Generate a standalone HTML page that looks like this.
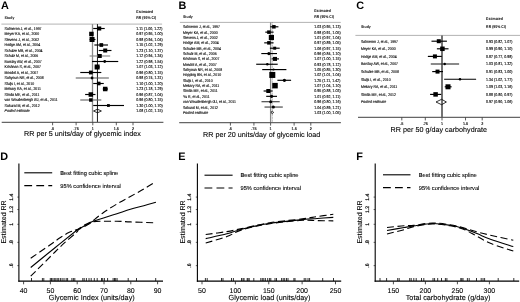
<!DOCTYPE html>
<html><head><meta charset="utf-8"><style>
html,body{margin:0;padding:0;background:#fff;}
svg{display:block;will-change:transform;}
text{font-family:"Liberation Sans", sans-serif;text-rendering:geometricPrecision;}
</style></head><body>
<svg width="520" height="302" viewBox="0 0 520 302">
<rect width="520" height="302" fill="#fff"/>
<text transform="translate(1.00,8.90) scale(0.1,0.1)" font-size="109.00" font-weight="bold" font-style="normal" text-anchor="start" fill="#000" >A</text>
<text transform="translate(4.60,19.35) scale(0.1,0.11499999999999999)" font-size="35.00" font-weight="bold" font-style="normal" text-anchor="start" fill="#000" >Study</text>
<text transform="translate(136.30,13.15) scale(0.1,0.11499999999999999)" font-size="35.00" font-weight="bold" font-style="normal" text-anchor="start" fill="#000" >Estimated</text>
<text transform="translate(136.30,18.95) scale(0.1,0.11499999999999999)" font-size="35.00" font-weight="bold" font-style="normal" text-anchor="start" fill="#000" >RR (95% CI)</text>
<line x1="1.40" y1="24.10" x2="162.10" y2="24.10" stroke="#aaa" stroke-width="0.9" />
<line x1="92.50" y1="24.10" x2="92.50" y2="122.30" stroke="#8a8a8a" stroke-width="1.3" />
<line x1="97.45" y1="24.10" x2="97.45" y2="122.30" stroke="#000" stroke-width="0.9" />
<text transform="translate(4.60,29.95) scale(0.1,0.11499999999999999)" font-size="35.00" font-weight="normal" font-style="normal" text-anchor="start" fill="#000" stroke="#000" stroke-width="1.00" >Salmeron J, et al., 1997</text>
<text transform="translate(136.30,29.95) scale(0.1,0.11499999999999999)" font-size="36.00" font-weight="normal" font-style="normal" text-anchor="start" fill="#000" stroke="#000" stroke-width="1.00" >1.11 (1.00, 1.22)</text>
<line x1="93.20" y1="28.50" x2="104.73" y2="28.50" stroke="#000" stroke-width="1.15" />
<rect x="97.25" y="26.50" width="4.00" height="4.00" fill="#000"/>
<text transform="translate(4.60,35.45) scale(0.1,0.11499999999999999)" font-size="35.00" font-weight="normal" font-style="normal" text-anchor="start" fill="#000" stroke="#000" stroke-width="1.00" >Meyer KA, et al., 2000</text>
<text transform="translate(136.30,35.45) scale(0.1,0.11499999999999999)" font-size="36.00" font-weight="normal" font-style="normal" text-anchor="start" fill="#000" stroke="#000" stroke-width="1.00" >0.97 (0.95, 1.00)</text>
<line x1="90.22" y1="34.00" x2="93.20" y2="34.00" stroke="#000" stroke-width="1.15" />
<rect x="89.18" y="31.75" width="4.50" height="4.50" fill="#000"/>
<text transform="translate(4.60,40.95) scale(0.1,0.11499999999999999)" font-size="35.00" font-weight="normal" font-style="normal" text-anchor="start" fill="#000" stroke="#000" stroke-width="1.00" >Stevens J, et al., 2002</text>
<text transform="translate(136.30,40.95) scale(0.1,0.11499999999999999)" font-size="36.00" font-weight="normal" font-style="normal" text-anchor="start" fill="#000" stroke="#000" stroke-width="1.00" >0.98 (0.94, 1.04)</text>
<line x1="89.61" y1="39.50" x2="95.47" y2="39.50" stroke="#000" stroke-width="1.15" />
<rect x="89.53" y="37.00" width="5.00" height="5.00" fill="#000"/>
<text transform="translate(4.60,46.45) scale(0.1,0.11499999999999999)" font-size="35.00" font-weight="normal" font-style="normal" text-anchor="start" fill="#000" stroke="#000" stroke-width="1.00" >Hodge AM, et al., 2004</text>
<text transform="translate(136.30,46.45) scale(0.1,0.11499999999999999)" font-size="36.00" font-weight="normal" font-style="normal" text-anchor="start" fill="#000" stroke="#000" stroke-width="1.00" >1.15 (1.02, 1.29)</text>
<line x1="94.35" y1="45.00" x2="107.97" y2="45.00" stroke="#000" stroke-width="1.15" />
<rect x="99.46" y="43.15" width="3.70" height="3.70" fill="#000"/>
<text transform="translate(4.60,51.95) scale(0.1,0.11499999999999999)" font-size="35.00" font-weight="normal" font-style="normal" text-anchor="start" fill="#000" stroke="#000" stroke-width="1.00" >Schulze MB, et al., 2004</text>
<text transform="translate(136.30,51.95) scale(0.1,0.11499999999999999)" font-size="36.00" font-weight="normal" font-style="normal" text-anchor="start" fill="#000" stroke="#000" stroke-width="1.00" >1.23 (1.10, 1.37)</text>
<line x1="98.73" y1="50.50" x2="111.46" y2="50.50" stroke="#000" stroke-width="1.15" />
<rect x="103.21" y="48.50" width="4.00" height="4.00" fill="#000"/>
<text transform="translate(4.60,57.45) scale(0.1,0.11499999999999999)" font-size="35.00" font-weight="normal" font-style="normal" text-anchor="start" fill="#000" stroke="#000" stroke-width="1.00" >Schulz M, et al., 2006</text>
<text transform="translate(136.30,57.45) scale(0.1,0.11499999999999999)" font-size="36.00" font-weight="normal" font-style="normal" text-anchor="start" fill="#000" stroke="#000" stroke-width="1.00" >1.12 (0.94, 1.34)</text>
<line x1="89.61" y1="56.00" x2="110.17" y2="56.00" stroke="#888" stroke-width="1.15" />
<rect x="97.77" y="54.00" width="4.00" height="4.00" fill="#000"/>
<text transform="translate(4.60,62.95) scale(0.1,0.11499999999999999)" font-size="35.00" font-weight="normal" font-style="normal" text-anchor="start" fill="#000" stroke="#000" stroke-width="1.00" >Barclay AW, et al., 2007</text>
<text transform="translate(136.30,62.95) scale(0.1,0.11499999999999999)" font-size="36.00" font-weight="normal" font-style="normal" text-anchor="start" fill="#000" stroke="#000" stroke-width="1.00" >1.22 (0.98, 1.54)</text>
<line x1="92.03" y1="61.50" x2="118.24" y2="61.50" stroke="#000" stroke-width="1.15" />
<circle cx="104.73" cy="61.50" r="1.40" fill="#000"/>
<text transform="translate(4.60,68.45) scale(0.1,0.11499999999999999)" font-size="35.00" font-weight="normal" font-style="normal" text-anchor="start" fill="#000" stroke="#000" stroke-width="1.00" >Krishnan S, et al., 2007</text>
<text transform="translate(136.30,68.45) scale(0.1,0.11499999999999999)" font-size="36.00" font-weight="normal" font-style="normal" text-anchor="start" fill="#000" stroke="#000" stroke-width="1.00" >1.07 (1.03, 1.12)</text>
<line x1="94.91" y1="67.00" x2="99.77" y2="67.00" stroke="#000" stroke-width="1.15" />
<rect x="94.62" y="64.50" width="5.00" height="5.00" fill="#000"/>
<text transform="translate(4.60,73.95) scale(0.1,0.11499999999999999)" font-size="35.00" font-weight="normal" font-style="normal" text-anchor="start" fill="#000" stroke="#000" stroke-width="1.00" >Mosdol A, et al., 2007</text>
<text transform="translate(136.30,73.95) scale(0.1,0.11499999999999999)" font-size="36.00" font-weight="normal" font-style="normal" text-anchor="start" fill="#000" stroke="#000" stroke-width="1.00" >0.96 (0.80, 1.15)</text>
<line x1="80.26" y1="72.50" x2="101.31" y2="72.50" stroke="#000" stroke-width="1.15" />
<rect x="88.93" y="70.60" width="3.80" height="3.80" fill="#000"/>
<text transform="translate(4.60,79.45) scale(0.1,0.11499999999999999)" font-size="35.00" font-weight="normal" font-style="normal" text-anchor="start" fill="#000" stroke="#000" stroke-width="1.00" >Sahyoun NR, et al., 2008</text>
<text transform="translate(136.30,79.45) scale(0.1,0.11499999999999999)" font-size="36.00" font-weight="normal" font-style="normal" text-anchor="start" fill="#000" stroke="#000" stroke-width="1.00" >0.98 (0.74, 1.31)</text>
<line x1="75.74" y1="78.00" x2="108.86" y2="78.00" stroke="#555" stroke-width="1.15" />
<circle cx="92.03" cy="78.00" r="1.40" fill="#000"/>
<text transform="translate(4.60,84.95) scale(0.1,0.11499999999999999)" font-size="35.00" font-weight="normal" font-style="normal" text-anchor="start" fill="#000" stroke="#000" stroke-width="1.00" >Sluijs I, et al., 2010</text>
<text transform="translate(136.30,84.95) scale(0.1,0.11499999999999999)" font-size="36.00" font-weight="normal" font-style="normal" text-anchor="start" fill="#000" stroke="#000" stroke-width="1.00" >1.10 (1.00, 1.20)</text>
<line x1="93.20" y1="83.50" x2="103.77" y2="83.50" stroke="#000" stroke-width="1.15" />
<rect x="96.93" y="81.70" width="3.60" height="3.60" fill="#000"/>
<text transform="translate(4.60,90.45) scale(0.1,0.11499999999999999)" font-size="35.00" font-weight="normal" font-style="normal" text-anchor="start" fill="#000" stroke="#000" stroke-width="1.00" >Mekary RA, et al., 2011</text>
<text transform="translate(136.30,90.45) scale(0.1,0.11499999999999999)" font-size="36.00" font-weight="normal" font-style="normal" text-anchor="start" fill="#000" stroke="#000" stroke-width="1.00" >1.23 (1.18, 1.29)</text>
<line x1="102.80" y1="89.00" x2="107.97" y2="89.00" stroke="#000" stroke-width="1.15" />
<rect x="102.96" y="86.75" width="4.50" height="4.50" fill="#000"/>
<text transform="translate(4.60,95.95) scale(0.1,0.11499999999999999)" font-size="35.00" font-weight="normal" font-style="normal" text-anchor="start" fill="#000" stroke="#000" stroke-width="1.00" >Simila ME, et al., 2011</text>
<text transform="translate(136.30,95.95) scale(0.1,0.11499999999999999)" font-size="36.00" font-weight="normal" font-style="normal" text-anchor="start" fill="#000" stroke="#000" stroke-width="1.00" >0.96 (0.87, 1.04)</text>
<line x1="85.12" y1="94.50" x2="95.47" y2="94.50" stroke="#000" stroke-width="1.15" />
<rect x="88.58" y="92.25" width="4.50" height="4.50" fill="#000"/>
<text transform="translate(4.60,101.45) scale(0.1,0.11499999999999999)" font-size="35.00" font-weight="normal" font-style="normal" text-anchor="start" fill="#000" stroke="#000" stroke-width="1.00" >van Woudenbergh GJ, et al., 2011</text>
<text transform="translate(136.30,101.45) scale(0.1,0.11499999999999999)" font-size="36.00" font-weight="normal" font-style="normal" text-anchor="start" fill="#000" stroke="#000" stroke-width="1.00" >0.96 (0.80, 1.15)</text>
<line x1="80.26" y1="100.00" x2="101.31" y2="100.00" stroke="#666" stroke-width="1.15" />
<rect x="89.08" y="98.25" width="3.50" height="3.50" fill="#000"/>
<text transform="translate(4.60,106.95) scale(0.1,0.11499999999999999)" font-size="35.00" font-weight="normal" font-style="normal" text-anchor="start" fill="#000" stroke="#000" stroke-width="1.00" >Sakurai M, et al., 2012</text>
<text transform="translate(136.30,106.95) scale(0.1,0.11499999999999999)" font-size="36.00" font-weight="normal" font-style="normal" text-anchor="start" fill="#000" stroke="#000" stroke-width="1.00" >1.30 (1.00, 1.70)</text>
<line x1="93.20" y1="105.50" x2="123.98" y2="105.50" stroke="#000" stroke-width="1.15" />
<rect x="107.02" y="104.10" width="2.80" height="2.80" fill="#000"/>
<text transform="translate(4.60,112.45) scale(0.1,0.11499999999999999)" font-size="35.00" font-weight="normal" font-style="italic" text-anchor="start" fill="#000" stroke="#000" stroke-width="1.00" >Pooled estimate</text>
<text transform="translate(136.30,112.45) scale(0.1,0.11499999999999999)" font-size="36.00" font-weight="normal" font-style="normal" text-anchor="start" fill="#000" stroke="#000" stroke-width="1.00" >1.08 (1.02, 1.15)</text>
<polygon points="93.50,111.00 97.45,109.20 101.40,111.00 97.45,112.80" fill="none" stroke="#000" stroke-width="0.8" stroke-linejoin="miter"/>
<line x1="1.70" y1="122.30" x2="163.40" y2="122.30" stroke="#666" stroke-width="1.3" />
<line x1="52.60" y1="122.30" x2="52.60" y2="125.30" stroke="#333" stroke-width="0.8" />
<text transform="translate(52.60,129.90) scale(0.1,0.1)" font-size="38.00" font-weight="normal" font-style="normal" text-anchor="middle" fill="#000" stroke="#000" stroke-width="1.20" >.5</text>
<line x1="76.11" y1="122.30" x2="76.11" y2="125.30" stroke="#333" stroke-width="0.8" />
<text transform="translate(76.11,129.90) scale(0.1,0.1)" font-size="38.00" font-weight="normal" font-style="normal" text-anchor="middle" fill="#000" stroke="#000" stroke-width="1.20" >.75</text>
<line x1="92.80" y1="122.30" x2="92.80" y2="125.30" stroke="#333" stroke-width="0.8" />
<text transform="translate(92.80,129.90) scale(0.1,0.1)" font-size="38.00" font-weight="normal" font-style="normal" text-anchor="middle" fill="#000" stroke="#000" stroke-width="1.20" >1</text>
<line x1="116.32" y1="122.30" x2="116.32" y2="125.30" stroke="#333" stroke-width="0.8" />
<text transform="translate(116.32,129.90) scale(0.1,0.1)" font-size="38.00" font-weight="normal" font-style="normal" text-anchor="middle" fill="#000" stroke="#000" stroke-width="1.20" >1.5</text>
<line x1="133.00" y1="122.30" x2="133.00" y2="125.30" stroke="#333" stroke-width="0.8" />
<text transform="translate(133.00,129.90) scale(0.1,0.1)" font-size="38.00" font-weight="normal" font-style="normal" text-anchor="middle" fill="#000" stroke="#000" stroke-width="1.20" >2</text>
<text transform="translate(24.00,136.30) scale(0.1,0.1)" font-size="72.00" font-weight="normal" font-style="normal" text-anchor="start" fill="#000" stroke="#000" stroke-width="1.00" >RR per 5 units/day of glycemic index</text>
<text transform="translate(178.40,8.90) scale(0.1,0.1)" font-size="109.00" font-weight="bold" font-style="normal" text-anchor="start" fill="#000" >B</text>
<text transform="translate(183.00,17.65) scale(0.1,0.11499999999999999)" font-size="35.00" font-weight="bold" font-style="normal" text-anchor="start" fill="#000" >Study</text>
<text transform="translate(314.20,12.25) scale(0.1,0.11499999999999999)" font-size="35.00" font-weight="bold" font-style="normal" text-anchor="start" fill="#000" >Estimated</text>
<text transform="translate(314.20,17.55) scale(0.1,0.11499999999999999)" font-size="35.00" font-weight="bold" font-style="normal" text-anchor="start" fill="#000" >RR (95% CI)</text>
<line x1="179.90" y1="22.40" x2="340.80" y2="22.40" stroke="#aaa" stroke-width="0.9" />
<line x1="270.60" y1="22.40" x2="270.60" y2="122.60" stroke="#888" stroke-width="1.3" />
<line x1="272.40" y1="22.40" x2="272.40" y2="122.60" stroke="#666" stroke-width="0.6" stroke-dasharray="0.8,0.7"/>
<text transform="translate(183.00,28.25) scale(0.1,0.11499999999999999)" font-size="35.00" font-weight="normal" font-style="normal" text-anchor="start" fill="#000" stroke="#000" stroke-width="1.00" >Salmeron J, et al., 1997</text>
<text transform="translate(314.20,28.25) scale(0.1,0.11499999999999999)" font-size="36.00" font-weight="normal" font-style="normal" text-anchor="start" fill="#000" stroke="#000" stroke-width="1.00" >1.03 (0.95, 1.13)</text>
<line x1="270.30" y1="26.80" x2="278.40" y2="26.80" stroke="#000" stroke-width="1.15" />
<rect x="272.15" y="25.05" width="3.50" height="3.50" fill="#000"/>
<text transform="translate(183.00,33.60) scale(0.1,0.11499999999999999)" font-size="35.00" font-weight="normal" font-style="normal" text-anchor="start" fill="#000" stroke="#000" stroke-width="1.00" >Meyer KA, et al., 2000</text>
<text transform="translate(314.20,33.60) scale(0.1,0.11499999999999999)" font-size="36.00" font-weight="normal" font-style="normal" text-anchor="start" fill="#000" stroke="#000" stroke-width="1.00" >0.98 (0.91, 1.05)</text>
<line x1="265.30" y1="32.15" x2="273.60" y2="32.15" stroke="#000" stroke-width="1.15" />
<rect x="267.15" y="30.40" width="3.50" height="3.50" fill="#000"/>
<text transform="translate(183.00,38.95) scale(0.1,0.11499999999999999)" font-size="35.00" font-weight="normal" font-style="normal" text-anchor="start" fill="#000" stroke="#000" stroke-width="1.00" >Stevens J, et al., 2002</text>
<text transform="translate(314.20,38.95) scale(0.1,0.11499999999999999)" font-size="36.00" font-weight="normal" font-style="normal" text-anchor="start" fill="#000" stroke="#000" stroke-width="1.00" >1.01 (0.97, 1.04)</text>
<line x1="269.50" y1="37.50" x2="273.50" y2="37.50" stroke="#000" stroke-width="1.15" />
<rect x="268.80" y="34.90" width="5.20" height="5.20" fill="#000"/>
<text transform="translate(183.00,44.30) scale(0.1,0.11499999999999999)" font-size="35.00" font-weight="normal" font-style="normal" text-anchor="start" fill="#000" stroke="#000" stroke-width="1.00" >Hodge AM, et al., 2004</text>
<text transform="translate(314.20,44.30) scale(0.1,0.11499999999999999)" font-size="36.00" font-weight="normal" font-style="normal" text-anchor="start" fill="#000" stroke="#000" stroke-width="1.00" >0.97 (0.89, 1.05)</text>
<line x1="264.20" y1="42.85" x2="273.60" y2="42.85" stroke="#000" stroke-width="1.15" />
<rect x="267.15" y="41.10" width="3.50" height="3.50" fill="#000"/>
<text transform="translate(183.00,49.65) scale(0.1,0.11499999999999999)" font-size="35.00" font-weight="normal" font-style="normal" text-anchor="start" fill="#000" stroke="#000" stroke-width="1.00" >Schulze MB, et al., 2004</text>
<text transform="translate(314.20,49.65) scale(0.1,0.11499999999999999)" font-size="36.00" font-weight="normal" font-style="normal" text-anchor="start" fill="#000" stroke="#000" stroke-width="1.00" >1.06 (0.97, 1.15)</text>
<line x1="269.90" y1="48.20" x2="279.70" y2="48.20" stroke="#000" stroke-width="1.15" />
<rect x="273.20" y="46.70" width="3.00" height="3.00" fill="#000"/>
<text transform="translate(183.00,55.00) scale(0.1,0.11499999999999999)" font-size="35.00" font-weight="normal" font-style="normal" text-anchor="start" fill="#000" stroke="#000" stroke-width="1.00" >Schulz M, et al., 2006</text>
<text transform="translate(314.20,55.00) scale(0.1,0.11499999999999999)" font-size="36.00" font-weight="normal" font-style="normal" text-anchor="start" fill="#000" stroke="#000" stroke-width="1.00" >0.96 (0.84, 1.10)</text>
<line x1="261.30" y1="53.55" x2="277.00" y2="53.55" stroke="#000" stroke-width="1.15" />
<circle cx="268.90" cy="53.55" r="1.65" fill="#000"/>
<text transform="translate(183.00,60.35) scale(0.1,0.11499999999999999)" font-size="35.00" font-weight="normal" font-style="normal" text-anchor="start" fill="#000" stroke="#000" stroke-width="1.00" >Krishnan S, et al., 2007</text>
<text transform="translate(314.20,60.35) scale(0.1,0.11499999999999999)" font-size="36.00" font-weight="normal" font-style="normal" text-anchor="start" fill="#000" stroke="#000" stroke-width="1.00" >1.07 (1.00, 1.15)</text>
<line x1="271.60" y1="58.90" x2="279.00" y2="58.90" stroke="#000" stroke-width="1.15" />
<rect x="273.00" y="56.90" width="4.00" height="4.00" fill="#000"/>
<text transform="translate(183.00,65.70) scale(0.1,0.11499999999999999)" font-size="35.00" font-weight="normal" font-style="normal" text-anchor="start" fill="#000" stroke="#000" stroke-width="1.00" >Mosdol A, et al., 2007</text>
<text transform="translate(314.20,65.70) scale(0.1,0.11499999999999999)" font-size="36.00" font-weight="normal" font-style="normal" text-anchor="start" fill="#000" stroke="#000" stroke-width="1.00" >0.93 (0.78, 1.12)</text>
<line x1="256.20" y1="64.25" x2="277.70" y2="64.25" stroke="#000" stroke-width="1.15" />
<circle cx="267.30" cy="64.25" r="1.25" fill="#000"/>
<text transform="translate(183.00,71.05) scale(0.1,0.11499999999999999)" font-size="35.00" font-weight="normal" font-style="normal" text-anchor="start" fill="#000" stroke="#000" stroke-width="1.00" >Sahyoun NR, et al., 2008</text>
<text transform="translate(314.20,71.05) scale(0.1,0.11499999999999999)" font-size="36.00" font-weight="normal" font-style="normal" text-anchor="start" fill="#000" stroke="#000" stroke-width="1.00" >1.05 (0.85, 1.30)</text>
<line x1="262.20" y1="69.60" x2="286.40" y2="69.60" stroke="#000" stroke-width="1.15" />
<circle cx="273.60" cy="69.60" r="1.00" fill="#000"/>
<text transform="translate(183.00,76.40) scale(0.1,0.11499999999999999)" font-size="35.00" font-weight="normal" font-style="normal" text-anchor="start" fill="#000" stroke="#000" stroke-width="1.00" >Hopping BN, et al., 2010</text>
<text transform="translate(314.20,76.40) scale(0.1,0.11499999999999999)" font-size="36.00" font-weight="normal" font-style="normal" text-anchor="start" fill="#000" stroke="#000" stroke-width="1.00" >1.02 (1.01, 1.04)</text>
<line x1="271.50" y1="74.95" x2="273.50" y2="74.95" stroke="#000" stroke-width="1.15" />
<rect x="269.30" y="71.95" width="6.00" height="6.00" fill="#000"/>
<text transform="translate(183.00,81.75) scale(0.1,0.11499999999999999)" font-size="35.00" font-weight="normal" font-style="normal" text-anchor="start" fill="#000" stroke="#000" stroke-width="1.00" >Sluijs I, et al., 2010</text>
<text transform="translate(314.20,81.75) scale(0.1,0.11499999999999999)" font-size="36.00" font-weight="normal" font-style="normal" text-anchor="start" fill="#000" stroke="#000" stroke-width="1.00" >1.25 (1.11, 1.42)</text>
<line x1="277.40" y1="80.30" x2="291.10" y2="80.30" stroke="#000" stroke-width="1.15" />
<circle cx="284.40" cy="80.30" r="1.65" fill="#000"/>
<text transform="translate(183.00,87.10) scale(0.1,0.11499999999999999)" font-size="35.00" font-weight="normal" font-style="normal" text-anchor="start" fill="#000" stroke="#000" stroke-width="1.00" >Mekary RA, et al., 2011</text>
<text transform="translate(314.20,87.10) scale(0.1,0.11499999999999999)" font-size="36.00" font-weight="normal" font-style="normal" text-anchor="start" fill="#000" stroke="#000" stroke-width="1.00" >1.07 (1.04, 1.10)</text>
<line x1="273.00" y1="85.65" x2="277.00" y2="85.65" stroke="#000" stroke-width="1.15" />
<rect x="272.25" y="82.90" width="5.50" height="5.50" fill="#000"/>
<text transform="translate(183.00,92.45) scale(0.1,0.11499999999999999)" font-size="35.00" font-weight="normal" font-style="normal" text-anchor="start" fill="#000" stroke="#000" stroke-width="1.00" >Simila ME, et al., 2011</text>
<text transform="translate(314.20,92.45) scale(0.1,0.11499999999999999)" font-size="36.00" font-weight="normal" font-style="normal" text-anchor="start" fill="#000" stroke="#000" stroke-width="1.00" >0.95 (0.88, 1.03)</text>
<line x1="263.60" y1="91.00" x2="272.50" y2="91.00" stroke="#000" stroke-width="1.15" />
<rect x="266.30" y="89.00" width="4.00" height="4.00" fill="#000"/>
<text transform="translate(183.00,97.80) scale(0.1,0.11499999999999999)" font-size="35.00" font-weight="normal" font-style="normal" text-anchor="start" fill="#000" stroke="#000" stroke-width="1.00" >Yu R, et al., 2011</text>
<text transform="translate(314.20,97.80) scale(0.1,0.11499999999999999)" font-size="36.00" font-weight="normal" font-style="normal" text-anchor="start" fill="#000" stroke="#000" stroke-width="1.00" >1.01 (0.92, 1.11)</text>
<line x1="266.20" y1="96.35" x2="277.00" y2="96.35" stroke="#000" stroke-width="1.15" />
<circle cx="271.60" cy="96.35" r="1.65" fill="#000"/>
<text transform="translate(183.00,103.15) scale(0.1,0.11499999999999999)" font-size="35.00" font-weight="normal" font-style="normal" text-anchor="start" fill="#000" stroke="#000" stroke-width="1.00" >van Woudenbergh GJ, et al., 2011</text>
<text transform="translate(314.20,103.15) scale(0.1,0.11499999999999999)" font-size="36.00" font-weight="normal" font-style="normal" text-anchor="start" fill="#000" stroke="#000" stroke-width="1.00" >0.96 (0.80, 1.16)</text>
<line x1="261.50" y1="101.70" x2="279.70" y2="101.70" stroke="#444" stroke-width="1.15" />
<circle cx="270.70" cy="101.70" r="1.50" fill="#000"/>
<text transform="translate(183.00,108.50) scale(0.1,0.11499999999999999)" font-size="35.00" font-weight="normal" font-style="normal" text-anchor="start" fill="#000" stroke="#000" stroke-width="1.00" >Sakurai M, et al., 2012</text>
<text transform="translate(314.20,108.50) scale(0.1,0.11499999999999999)" font-size="36.00" font-weight="normal" font-style="normal" text-anchor="start" fill="#000" stroke="#000" stroke-width="1.00" >1.04 (0.89, 1.21)</text>
<line x1="264.50" y1="107.05" x2="282.80" y2="107.05" stroke="#444" stroke-width="1.15" />
<circle cx="273.40" cy="107.05" r="1.50" fill="#000"/>
<text transform="translate(183.00,113.85) scale(0.1,0.11499999999999999)" font-size="35.00" font-weight="normal" font-style="italic" text-anchor="start" fill="#000" stroke="#000" stroke-width="1.00" >Pooled estimate</text>
<text transform="translate(314.20,113.85) scale(0.1,0.11499999999999999)" font-size="36.00" font-weight="normal" font-style="normal" text-anchor="start" fill="#000" stroke="#000" stroke-width="1.00" >1.03 (1.00, 1.05)</text>
<polygon points="270.90,112.40 272.30,111.10 273.70,112.40 272.30,113.70" fill="none" stroke="#000" stroke-width="0.8" stroke-linejoin="miter"/>
<line x1="179.20" y1="122.60" x2="340.90" y2="122.60" stroke="#666" stroke-width="1.3" />
<line x1="230.40" y1="122.60" x2="230.40" y2="125.60" stroke="#333" stroke-width="0.8" />
<text transform="translate(230.40,130.20) scale(0.1,0.1)" font-size="38.00" font-weight="normal" font-style="normal" text-anchor="middle" fill="#000" stroke="#000" stroke-width="1.20" >.5</text>
<line x1="253.91" y1="122.60" x2="253.91" y2="125.60" stroke="#333" stroke-width="0.8" />
<text transform="translate(253.91,130.20) scale(0.1,0.1)" font-size="38.00" font-weight="normal" font-style="normal" text-anchor="middle" fill="#000" stroke="#000" stroke-width="1.20" >.75</text>
<line x1="270.60" y1="122.60" x2="270.60" y2="125.60" stroke="#333" stroke-width="0.8" />
<text transform="translate(270.60,130.20) scale(0.1,0.1)" font-size="38.00" font-weight="normal" font-style="normal" text-anchor="middle" fill="#000" stroke="#000" stroke-width="1.20" >1</text>
<line x1="294.12" y1="122.60" x2="294.12" y2="125.60" stroke="#333" stroke-width="0.8" />
<text transform="translate(294.12,130.20) scale(0.1,0.1)" font-size="38.00" font-weight="normal" font-style="normal" text-anchor="middle" fill="#000" stroke="#000" stroke-width="1.20" >1.5</text>
<line x1="310.80" y1="122.60" x2="310.80" y2="125.60" stroke="#333" stroke-width="0.8" />
<text transform="translate(310.80,130.20) scale(0.1,0.1)" font-size="38.00" font-weight="normal" font-style="normal" text-anchor="middle" fill="#000" stroke="#000" stroke-width="1.20" >2</text>
<text transform="translate(203.00,136.50) scale(0.1,0.1)" font-size="72.00" font-weight="normal" font-style="normal" text-anchor="start" fill="#000" stroke="#000" stroke-width="1.00" >RR per 20 units/day of glycemic load</text>
<text transform="translate(356.20,8.90) scale(0.1,0.1)" font-size="109.00" font-weight="bold" font-style="normal" text-anchor="start" fill="#000" >C</text>
<text transform="translate(361.00,27.75) scale(0.1,0.11499999999999999)" font-size="35.00" font-weight="bold" font-style="normal" text-anchor="start" fill="#000" >Study</text>
<text transform="translate(486.10,20.05) scale(0.1,0.11499999999999999)" font-size="35.00" font-weight="bold" font-style="normal" text-anchor="start" fill="#000" >Estimated</text>
<text transform="translate(486.10,27.55) scale(0.1,0.11499999999999999)" font-size="35.00" font-weight="bold" font-style="normal" text-anchor="start" fill="#000" >RR (95% CI)</text>
<line x1="355.40" y1="35.40" x2="520.00" y2="35.40" stroke="#aaa" stroke-width="0.9" />
<line x1="442.00" y1="35.40" x2="442.00" y2="117.40" stroke="#444" stroke-width="1.5" />
<text transform="translate(361.00,42.65) scale(0.1,0.11499999999999999)" font-size="35.00" font-weight="normal" font-style="normal" text-anchor="start" fill="#000" stroke="#000" stroke-width="1.00" >Salmeron J, et al., 1997</text>
<text transform="translate(486.10,42.65) scale(0.1,0.11499999999999999)" font-size="36.00" font-weight="normal" font-style="normal" text-anchor="start" fill="#000" stroke="#000" stroke-width="1.00" >0.93 (0.82, 1.07)</text>
<line x1="431.49" y1="41.20" x2="446.92" y2="41.20" stroke="#000" stroke-width="1.15" />
<rect x="436.79" y="39.20" width="4.00" height="4.00" fill="#000"/>
<text transform="translate(361.00,50.25) scale(0.1,0.11499999999999999)" font-size="35.00" font-weight="normal" font-style="normal" text-anchor="start" fill="#000" stroke="#000" stroke-width="1.00" >Meyer KA, et al., 2000</text>
<text transform="translate(486.10,50.25) scale(0.1,0.11499999999999999)" font-size="36.00" font-weight="normal" font-style="normal" text-anchor="start" fill="#000" stroke="#000" stroke-width="1.00" >0.99 (0.90, 1.10)</text>
<line x1="436.89" y1="48.80" x2="448.53" y2="48.80" stroke="#000" stroke-width="1.15" />
<rect x="440.17" y="46.55" width="4.50" height="4.50" fill="#000"/>
<text transform="translate(361.00,57.85) scale(0.1,0.11499999999999999)" font-size="35.00" font-weight="normal" font-style="normal" text-anchor="start" fill="#000" stroke="#000" stroke-width="1.00" >Hodge AM, et al., 2004</text>
<text transform="translate(486.10,57.85) scale(0.1,0.11499999999999999)" font-size="36.00" font-weight="normal" font-style="normal" text-anchor="start" fill="#000" stroke="#000" stroke-width="1.00" >0.87 (0.77, 0.98)</text>
<line x1="427.84" y1="56.40" x2="441.83" y2="56.40" stroke="#000" stroke-width="1.15" />
<rect x="432.92" y="54.40" width="4.00" height="4.00" fill="#000"/>
<text transform="translate(361.00,65.45) scale(0.1,0.11499999999999999)" font-size="35.00" font-weight="normal" font-style="normal" text-anchor="start" fill="#000" stroke="#000" stroke-width="1.00" >Barclay AW, et al., 2007</text>
<text transform="translate(486.10,65.45) scale(0.1,0.11499999999999999)" font-size="36.00" font-weight="normal" font-style="normal" text-anchor="start" fill="#000" stroke="#000" stroke-width="1.00" >1.03 (0.81, 1.32)</text>
<line x1="430.78" y1="64.00" x2="459.10" y2="64.00" stroke="#333" stroke-width="1.15" />
<circle cx="444.71" cy="64.00" r="1.25" fill="#000"/>
<text transform="translate(361.00,73.05) scale(0.1,0.11499999999999999)" font-size="35.00" font-weight="normal" font-style="normal" text-anchor="start" fill="#000" stroke="#000" stroke-width="1.00" >Schulze MB, et al., 2008</text>
<text transform="translate(486.10,73.05) scale(0.1,0.11499999999999999)" font-size="36.00" font-weight="normal" font-style="normal" text-anchor="start" fill="#000" stroke="#000" stroke-width="1.00" >0.91 (0.83, 1.00)</text>
<line x1="432.19" y1="71.60" x2="443.00" y2="71.60" stroke="#000" stroke-width="1.15" />
<rect x="435.53" y="69.60" width="4.00" height="4.00" fill="#000"/>
<text transform="translate(361.00,80.65) scale(0.1,0.11499999999999999)" font-size="35.00" font-weight="normal" font-style="normal" text-anchor="start" fill="#000" stroke="#000" stroke-width="1.00" >Sluijs I, et al., 2010</text>
<text transform="translate(486.10,80.65) scale(0.1,0.11499999999999999)" font-size="36.00" font-weight="normal" font-style="normal" text-anchor="start" fill="#000" stroke="#000" stroke-width="1.00" >1.34 (1.02, 1.77)</text>
<line x1="444.15" y1="79.20" x2="476.12" y2="79.20" stroke="#000" stroke-width="1.15" />
<circle cx="459.97" cy="79.20" r="1.25" fill="#000"/>
<text transform="translate(361.00,88.25) scale(0.1,0.11499999999999999)" font-size="35.00" font-weight="normal" font-style="normal" text-anchor="start" fill="#000" stroke="#000" stroke-width="1.00" >Mekary RA, et al., 2011</text>
<text transform="translate(486.10,88.25) scale(0.1,0.11499999999999999)" font-size="36.00" font-weight="normal" font-style="normal" text-anchor="start" fill="#000" stroke="#000" stroke-width="1.00" >1.09 (1.03, 1.16)</text>
<line x1="444.71" y1="86.80" x2="451.61" y2="86.80" stroke="#000" stroke-width="1.15" />
<rect x="445.50" y="84.30" width="5.00" height="5.00" fill="#000"/>
<text transform="translate(361.00,95.85) scale(0.1,0.11499999999999999)" font-size="35.00" font-weight="normal" font-style="normal" text-anchor="start" fill="#000" stroke="#000" stroke-width="1.00" >Simila ME, et al., 2012</text>
<text transform="translate(486.10,95.85) scale(0.1,0.11499999999999999)" font-size="36.00" font-weight="normal" font-style="normal" text-anchor="start" fill="#000" stroke="#000" stroke-width="1.00" >0.88 (0.80, 0.97)</text>
<line x1="430.06" y1="94.40" x2="441.23" y2="94.40" stroke="#000" stroke-width="1.15" />
<rect x="433.34" y="92.15" width="4.50" height="4.50" fill="#000"/>
<text transform="translate(361.00,103.45) scale(0.1,0.11499999999999999)" font-size="35.00" font-weight="normal" font-style="italic" text-anchor="start" fill="#000" stroke="#000" stroke-width="1.00" >Pooled estimate</text>
<text transform="translate(486.10,103.45) scale(0.1,0.11499999999999999)" font-size="36.00" font-weight="normal" font-style="normal" text-anchor="start" fill="#000" stroke="#000" stroke-width="1.00" >0.97 (0.90, 1.06)</text>
<polygon points="436.00,102.00 441.60,99.30 446.40,102.00 441.60,104.70" fill="none" stroke="#000" stroke-width="0.8" stroke-linejoin="miter"/>
<line x1="358.00" y1="117.40" x2="520.00" y2="117.40" stroke="#666" stroke-width="1.3" />
<line x1="401.80" y1="117.40" x2="401.80" y2="120.40" stroke="#333" stroke-width="0.8" />
<text transform="translate(401.80,125.00) scale(0.1,0.1)" font-size="38.00" font-weight="normal" font-style="normal" text-anchor="middle" fill="#000" stroke="#000" stroke-width="1.20" >.5</text>
<line x1="425.31" y1="117.40" x2="425.31" y2="120.40" stroke="#333" stroke-width="0.8" />
<text transform="translate(425.31,125.00) scale(0.1,0.1)" font-size="38.00" font-weight="normal" font-style="normal" text-anchor="middle" fill="#000" stroke="#000" stroke-width="1.20" >.75</text>
<line x1="442.00" y1="117.40" x2="442.00" y2="120.40" stroke="#333" stroke-width="0.8" />
<text transform="translate(442.00,125.00) scale(0.1,0.1)" font-size="38.00" font-weight="normal" font-style="normal" text-anchor="middle" fill="#000" stroke="#000" stroke-width="1.20" >1</text>
<line x1="465.52" y1="117.40" x2="465.52" y2="120.40" stroke="#333" stroke-width="0.8" />
<text transform="translate(465.52,125.00) scale(0.1,0.1)" font-size="38.00" font-weight="normal" font-style="normal" text-anchor="middle" fill="#000" stroke="#000" stroke-width="1.20" >1.5</text>
<line x1="482.20" y1="117.40" x2="482.20" y2="120.40" stroke="#333" stroke-width="0.8" />
<text transform="translate(482.20,125.00) scale(0.1,0.1)" font-size="38.00" font-weight="normal" font-style="normal" text-anchor="middle" fill="#000" stroke="#000" stroke-width="1.20" >2</text>
<text transform="translate(390.60,131.70) scale(0.1,0.1)" font-size="72.00" font-weight="normal" font-style="normal" text-anchor="start" fill="#000" stroke="#000" stroke-width="1.00" >RR per 50 g/day carbohydrate</text>
<text transform="translate(0.20,160.10) scale(0.1,0.1)" font-size="109.00" font-weight="bold" font-style="normal" text-anchor="start" fill="#000" >D</text>
<line x1="18.90" y1="163.40" x2="18.90" y2="281.80" stroke="#000" stroke-width="1.1" />
<line x1="18.35" y1="281.20" x2="163.00" y2="281.20" stroke="#000" stroke-width="1.2" />
<line x1="17.30" y1="265.63" x2="18.90" y2="265.63" stroke="#000" stroke-width="0.6" />
<text transform="translate(12.90,265.63) rotate(-90)" font-size="5.1" text-anchor="middle" fill="#000" stroke="#000" stroke-width="0.2">.6</text>
<line x1="17.30" y1="242.35" x2="18.90" y2="242.35" stroke="#000" stroke-width="0.6" />
<text transform="translate(12.90,242.35) rotate(-90)" font-size="5.1" text-anchor="middle" fill="#000" stroke="#000" stroke-width="0.2">.8</text>
<line x1="17.30" y1="224.30" x2="18.90" y2="224.30" stroke="#000" stroke-width="0.6" />
<text transform="translate(12.90,224.30) rotate(-90)" font-size="5.1" text-anchor="middle" fill="#000" stroke="#000" stroke-width="0.2">1</text>
<line x1="17.30" y1="209.55" x2="18.90" y2="209.55" stroke="#000" stroke-width="0.6" />
<text transform="translate(12.90,209.55) rotate(-90)" font-size="5.1" text-anchor="middle" fill="#000" stroke="#000" stroke-width="0.2">1.2</text>
<line x1="17.30" y1="197.08" x2="18.90" y2="197.08" stroke="#000" stroke-width="0.6" />
<text transform="translate(12.90,197.08) rotate(-90)" font-size="5.1" text-anchor="middle" fill="#000" stroke="#000" stroke-width="0.2">1.4</text>
<text transform="translate(6.00,222.0) rotate(-90)" font-size="7.0" text-anchor="middle" fill="#000" stroke="#000" stroke-width="0.1">Estimated RR</text>
<line x1="23.60" y1="281.50" x2="23.60" y2="284.30" stroke="#000" stroke-width="0.7" />
<text transform="translate(23.60,292.60) scale(0.1,0.1)" font-size="70.00" font-weight="normal" font-style="normal" text-anchor="middle" fill="#000" stroke="#000" stroke-width="1.00" >40</text>
<line x1="50.40" y1="281.50" x2="50.40" y2="284.30" stroke="#000" stroke-width="0.7" />
<text transform="translate(50.40,292.60) scale(0.1,0.1)" font-size="70.00" font-weight="normal" font-style="normal" text-anchor="middle" fill="#000" stroke="#000" stroke-width="1.00" >50</text>
<line x1="77.20" y1="281.50" x2="77.20" y2="284.30" stroke="#000" stroke-width="0.7" />
<text transform="translate(77.20,292.60) scale(0.1,0.1)" font-size="70.00" font-weight="normal" font-style="normal" text-anchor="middle" fill="#000" stroke="#000" stroke-width="1.00" >60</text>
<line x1="104.00" y1="281.50" x2="104.00" y2="284.30" stroke="#000" stroke-width="0.7" />
<text transform="translate(104.00,292.60) scale(0.1,0.1)" font-size="70.00" font-weight="normal" font-style="normal" text-anchor="middle" fill="#000" stroke="#000" stroke-width="1.00" >70</text>
<line x1="130.80" y1="281.50" x2="130.80" y2="284.30" stroke="#000" stroke-width="0.7" />
<text transform="translate(130.80,292.60) scale(0.1,0.1)" font-size="70.00" font-weight="normal" font-style="normal" text-anchor="middle" fill="#000" stroke="#000" stroke-width="1.00" >80</text>
<line x1="157.60" y1="281.50" x2="157.60" y2="284.30" stroke="#000" stroke-width="0.7" />
<text transform="translate(157.60,292.60) scale(0.1,0.1)" font-size="70.00" font-weight="normal" font-style="normal" text-anchor="middle" fill="#000" stroke="#000" stroke-width="1.00" >90</text>
<text transform="translate(48.70,299.80) scale(0.1,0.1)" font-size="73.00" font-weight="normal" font-style="normal" text-anchor="start" fill="#000" stroke="#000" stroke-width="1.00" >Glycemic Index (units/day)</text>
<line x1="31.50" y1="278.00" x2="31.50" y2="281.00" stroke="#000" stroke-width="0.8" />
<line x1="42.40" y1="278.00" x2="42.40" y2="281.00" stroke="#000" stroke-width="0.8" />
<line x1="43.80" y1="278.00" x2="43.80" y2="281.00" stroke="#000" stroke-width="0.8" />
<line x1="50.30" y1="278.00" x2="50.30" y2="281.00" stroke="#000" stroke-width="0.8" />
<line x1="51.50" y1="278.00" x2="51.50" y2="281.00" stroke="#000" stroke-width="0.8" />
<line x1="52.90" y1="278.00" x2="52.90" y2="281.00" stroke="#000" stroke-width="0.8" />
<line x1="54.30" y1="278.00" x2="54.30" y2="281.00" stroke="#000" stroke-width="0.8" />
<line x1="55.80" y1="278.00" x2="55.80" y2="281.00" stroke="#000" stroke-width="0.8" />
<line x1="57.20" y1="278.00" x2="57.20" y2="281.00" stroke="#000" stroke-width="0.8" />
<line x1="58.70" y1="278.00" x2="58.70" y2="281.00" stroke="#000" stroke-width="0.8" />
<line x1="60.40" y1="278.00" x2="60.40" y2="281.00" stroke="#000" stroke-width="0.8" />
<line x1="62.10" y1="278.00" x2="62.10" y2="281.00" stroke="#000" stroke-width="0.8" />
<line x1="64.00" y1="278.00" x2="64.00" y2="281.00" stroke="#000" stroke-width="0.8" />
<line x1="66.20" y1="278.00" x2="66.20" y2="281.00" stroke="#000" stroke-width="0.8" />
<line x1="67.60" y1="278.00" x2="67.60" y2="281.00" stroke="#000" stroke-width="0.8" />
<line x1="71.90" y1="278.00" x2="71.90" y2="281.00" stroke="#000" stroke-width="0.8" />
<line x1="73.40" y1="278.00" x2="73.40" y2="281.00" stroke="#000" stroke-width="0.8" />
<line x1="74.80" y1="278.00" x2="74.80" y2="281.00" stroke="#000" stroke-width="0.8" />
<line x1="82.80" y1="278.00" x2="82.80" y2="281.00" stroke="#000" stroke-width="0.8" />
<line x1="84.20" y1="278.00" x2="84.20" y2="281.00" stroke="#000" stroke-width="0.8" />
<line x1="86.40" y1="278.00" x2="86.40" y2="281.00" stroke="#000" stroke-width="0.8" />
<line x1="89.00" y1="278.00" x2="89.00" y2="281.00" stroke="#000" stroke-width="0.8" />
<line x1="91.20" y1="278.00" x2="91.20" y2="281.00" stroke="#000" stroke-width="0.8" />
<line x1="94.30" y1="278.00" x2="94.30" y2="281.00" stroke="#000" stroke-width="0.8" />
<line x1="97.20" y1="278.00" x2="97.20" y2="281.00" stroke="#000" stroke-width="0.8" />
<line x1="101.50" y1="278.00" x2="101.50" y2="281.00" stroke="#000" stroke-width="0.8" />
<line x1="102.70" y1="278.00" x2="102.70" y2="281.00" stroke="#000" stroke-width="0.8" />
<line x1="104.40" y1="278.00" x2="104.40" y2="281.00" stroke="#000" stroke-width="0.8" />
<line x1="107.60" y1="278.00" x2="107.60" y2="281.00" stroke="#000" stroke-width="0.8" />
<line x1="113.10" y1="278.00" x2="113.10" y2="281.00" stroke="#000" stroke-width="0.8" />
<line x1="114.50" y1="278.00" x2="114.50" y2="281.00" stroke="#000" stroke-width="0.8" />
<line x1="115.70" y1="278.00" x2="115.70" y2="281.00" stroke="#000" stroke-width="0.8" />
<line x1="117.10" y1="278.00" x2="117.10" y2="281.00" stroke="#000" stroke-width="0.8" />
<line x1="128.20" y1="278.00" x2="128.20" y2="281.00" stroke="#000" stroke-width="0.8" />
<line x1="136.50" y1="278.00" x2="136.50" y2="281.00" stroke="#000" stroke-width="0.8" />
<line x1="155.70" y1="278.00" x2="155.70" y2="281.00" stroke="#000" stroke-width="0.8" />
<line x1="24.30" y1="172.80" x2="52.20" y2="172.80" stroke="#000" stroke-width="1.1" />
<line x1="24.30" y1="185.60" x2="52.20" y2="185.60" stroke="#000" stroke-width="1.1" stroke-dasharray="7.8,4.2"/>
<text transform="translate(60.30,174.85) scale(0.1,0.1)" font-size="57.00" font-weight="normal" font-style="normal" text-anchor="start" fill="#000" stroke="#000" stroke-width="1.00" >Best fitting cubic spline</text>
<text transform="translate(60.30,187.65) scale(0.1,0.1)" font-size="57.00" font-weight="normal" font-style="normal" text-anchor="start" fill="#000" stroke="#000" stroke-width="1.00" >95% confidence interval</text>
<path d="M30.70,267.50 C34.75,264.20 47.68,253.62 55.00,247.70 C62.32,241.78 70.68,235.08 74.60,232.00 C78.52,228.92 77.85,229.67 78.50,229.20 C79.67,228.55 83.20,226.57 85.50,225.30 C87.80,224.03 91.17,222.22 92.30,221.60 C94.17,220.98 99.40,219.22 103.50,217.90 C107.60,216.58 112.42,215.13 116.90,213.70 C121.38,212.27 125.92,210.63 130.40,209.30 C134.88,207.97 139.55,206.87 143.80,205.70 C148.05,204.53 153.88,202.87 155.90,202.30" fill="none" stroke="#000" stroke-width="1.1" />
<path d="M30.70,258.20 C33.97,255.97 45.42,248.20 50.30,244.80 C55.18,241.40 56.92,239.83 60.00,237.80 C63.08,235.77 66.32,233.83 68.80,232.60 C71.28,231.37 73.28,231.00 74.90,230.40 C76.52,229.80 77.90,229.23 78.50,229.00 C79.67,228.27 83.20,225.88 85.50,224.60 C87.80,223.32 91.17,221.85 92.30,221.30 C94.17,219.83 99.40,215.38 103.50,212.50 C107.60,209.62 112.42,206.67 116.90,204.00 C121.38,201.33 125.92,199.00 130.40,196.50 C134.88,194.00 139.65,191.42 143.80,189.00 C147.95,186.58 153.38,183.17 155.30,182.00" fill="none" stroke="#000" stroke-width="1.1" stroke-dasharray="7,3.5"/>
<path d="M30.70,276.20 C34.75,272.17 49.20,257.72 55.00,252.00 C60.80,246.28 62.00,245.10 65.50,241.90 C69.00,238.70 73.83,234.88 76.00,232.80 C78.17,230.72 78.08,229.97 78.50,229.40 C79.67,228.83 83.20,227.25 85.50,226.00 C87.80,224.75 91.17,222.58 92.30,221.90 C93.03,221.82 92.60,221.52 96.70,221.40 C100.80,221.28 111.28,221.12 116.90,221.20 C122.52,221.28 124.30,221.65 130.40,221.90 C136.50,222.15 149.65,222.57 153.50,222.70" fill="none" stroke="#000" stroke-width="1.1" stroke-dasharray="7,3.5"/>
<text transform="translate(178.20,160.10) scale(0.1,0.1)" font-size="109.00" font-weight="bold" font-style="normal" text-anchor="start" fill="#000" >E</text>
<line x1="197.40" y1="163.40" x2="197.40" y2="281.80" stroke="#000" stroke-width="1.1" />
<line x1="196.85" y1="281.20" x2="341.20" y2="281.20" stroke="#000" stroke-width="1.2" />
<line x1="195.80" y1="265.63" x2="197.40" y2="265.63" stroke="#000" stroke-width="0.6" />
<text transform="translate(191.40,265.63) rotate(-90)" font-size="5.1" text-anchor="middle" fill="#000" stroke="#000" stroke-width="0.2">.6</text>
<line x1="195.80" y1="242.35" x2="197.40" y2="242.35" stroke="#000" stroke-width="0.6" />
<text transform="translate(191.40,242.35) rotate(-90)" font-size="5.1" text-anchor="middle" fill="#000" stroke="#000" stroke-width="0.2">.8</text>
<line x1="195.80" y1="224.30" x2="197.40" y2="224.30" stroke="#000" stroke-width="0.6" />
<text transform="translate(191.40,224.30) rotate(-90)" font-size="5.1" text-anchor="middle" fill="#000" stroke="#000" stroke-width="0.2">1</text>
<line x1="195.80" y1="209.55" x2="197.40" y2="209.55" stroke="#000" stroke-width="0.6" />
<text transform="translate(191.40,209.55) rotate(-90)" font-size="5.1" text-anchor="middle" fill="#000" stroke="#000" stroke-width="0.2">1.2</text>
<line x1="195.80" y1="197.08" x2="197.40" y2="197.08" stroke="#000" stroke-width="0.6" />
<text transform="translate(191.40,197.08) rotate(-90)" font-size="5.1" text-anchor="middle" fill="#000" stroke="#000" stroke-width="0.2">1.4</text>
<text transform="translate(184.50,222.0) rotate(-90)" font-size="7.0" text-anchor="middle" fill="#000" stroke="#000" stroke-width="0.1">Estimated RR</text>
<line x1="202.00" y1="281.50" x2="202.00" y2="284.30" stroke="#000" stroke-width="0.7" />
<text transform="translate(202.00,292.60) scale(0.1,0.1)" font-size="70.00" font-weight="normal" font-style="normal" text-anchor="middle" fill="#000" stroke="#000" stroke-width="1.00" >50</text>
<line x1="235.38" y1="281.50" x2="235.38" y2="284.30" stroke="#000" stroke-width="0.7" />
<text transform="translate(235.38,292.60) scale(0.1,0.1)" font-size="70.00" font-weight="normal" font-style="normal" text-anchor="middle" fill="#000" stroke="#000" stroke-width="1.00" >100</text>
<line x1="268.75" y1="281.50" x2="268.75" y2="284.30" stroke="#000" stroke-width="0.7" />
<text transform="translate(268.75,292.60) scale(0.1,0.1)" font-size="70.00" font-weight="normal" font-style="normal" text-anchor="middle" fill="#000" stroke="#000" stroke-width="1.00" >150</text>
<line x1="302.12" y1="281.50" x2="302.12" y2="284.30" stroke="#000" stroke-width="0.7" />
<text transform="translate(302.12,292.60) scale(0.1,0.1)" font-size="70.00" font-weight="normal" font-style="normal" text-anchor="middle" fill="#000" stroke="#000" stroke-width="1.00" >200</text>
<line x1="335.50" y1="281.50" x2="335.50" y2="284.30" stroke="#000" stroke-width="0.7" />
<text transform="translate(335.50,292.60) scale(0.1,0.1)" font-size="70.00" font-weight="normal" font-style="normal" text-anchor="middle" fill="#000" stroke="#000" stroke-width="1.00" >250</text>
<text transform="translate(228.50,299.80) scale(0.1,0.1)" font-size="73.00" font-weight="normal" font-style="normal" text-anchor="start" fill="#000" stroke="#000" stroke-width="1.00" >Glycemic load (units/day)</text>
<line x1="205.40" y1="278.00" x2="205.40" y2="281.00" stroke="#000" stroke-width="0.8" />
<line x1="207.20" y1="278.00" x2="207.20" y2="281.00" stroke="#000" stroke-width="0.8" />
<line x1="221.50" y1="278.00" x2="221.50" y2="281.00" stroke="#000" stroke-width="0.8" />
<line x1="223.00" y1="278.00" x2="223.00" y2="281.00" stroke="#000" stroke-width="0.8" />
<line x1="231.50" y1="278.00" x2="231.50" y2="281.00" stroke="#000" stroke-width="0.8" />
<line x1="233.40" y1="278.00" x2="233.40" y2="281.00" stroke="#000" stroke-width="0.8" />
<line x1="241.50" y1="278.00" x2="241.50" y2="281.00" stroke="#000" stroke-width="0.8" />
<line x1="243.00" y1="278.00" x2="243.00" y2="281.00" stroke="#000" stroke-width="0.8" />
<line x1="244.00" y1="278.00" x2="244.00" y2="281.00" stroke="#000" stroke-width="0.8" />
<line x1="247.20" y1="278.00" x2="247.20" y2="281.00" stroke="#000" stroke-width="0.8" />
<line x1="248.00" y1="278.00" x2="248.00" y2="281.00" stroke="#000" stroke-width="0.8" />
<line x1="249.20" y1="278.00" x2="249.20" y2="281.00" stroke="#000" stroke-width="0.8" />
<line x1="253.80" y1="278.00" x2="253.80" y2="281.00" stroke="#000" stroke-width="0.8" />
<line x1="260.80" y1="278.00" x2="260.80" y2="281.00" stroke="#000" stroke-width="0.8" />
<line x1="262.30" y1="278.00" x2="262.30" y2="281.00" stroke="#000" stroke-width="0.8" />
<line x1="263.80" y1="278.00" x2="263.80" y2="281.00" stroke="#000" stroke-width="0.8" />
<line x1="265.40" y1="278.00" x2="265.40" y2="281.00" stroke="#000" stroke-width="0.8" />
<line x1="267.70" y1="278.00" x2="267.70" y2="281.00" stroke="#000" stroke-width="0.8" />
<line x1="269.60" y1="278.00" x2="269.60" y2="281.00" stroke="#000" stroke-width="0.8" />
<line x1="270.80" y1="278.00" x2="270.80" y2="281.00" stroke="#000" stroke-width="0.8" />
<line x1="275.00" y1="278.00" x2="275.00" y2="281.00" stroke="#000" stroke-width="0.8" />
<line x1="276.50" y1="278.00" x2="276.50" y2="281.00" stroke="#000" stroke-width="0.8" />
<line x1="281.60" y1="278.00" x2="281.60" y2="281.00" stroke="#000" stroke-width="0.8" />
<line x1="283.20" y1="278.00" x2="283.20" y2="281.00" stroke="#000" stroke-width="0.8" />
<line x1="284.70" y1="278.00" x2="284.70" y2="281.00" stroke="#000" stroke-width="0.8" />
<line x1="286.50" y1="278.00" x2="286.50" y2="281.00" stroke="#000" stroke-width="0.8" />
<line x1="288.00" y1="278.00" x2="288.00" y2="281.00" stroke="#000" stroke-width="0.8" />
<line x1="293.90" y1="278.00" x2="293.90" y2="281.00" stroke="#000" stroke-width="0.8" />
<line x1="295.00" y1="278.00" x2="295.00" y2="281.00" stroke="#000" stroke-width="0.8" />
<line x1="304.20" y1="278.00" x2="304.20" y2="281.00" stroke="#000" stroke-width="0.8" />
<line x1="305.80" y1="278.00" x2="305.80" y2="281.00" stroke="#000" stroke-width="0.8" />
<line x1="308.00" y1="278.00" x2="308.00" y2="281.00" stroke="#000" stroke-width="0.8" />
<line x1="309.60" y1="278.00" x2="309.60" y2="281.00" stroke="#000" stroke-width="0.8" />
<line x1="322.70" y1="278.00" x2="322.70" y2="281.00" stroke="#000" stroke-width="0.8" />
<line x1="333.50" y1="278.00" x2="333.50" y2="281.00" stroke="#000" stroke-width="0.8" />
<line x1="204.50" y1="175.20" x2="232.60" y2="175.20" stroke="#000" stroke-width="1.1" />
<line x1="204.50" y1="188.00" x2="232.60" y2="188.00" stroke="#000" stroke-width="1.1" stroke-dasharray="7.8,4.2"/>
<text transform="translate(240.50,177.25) scale(0.1,0.1)" font-size="57.00" font-weight="normal" font-style="normal" text-anchor="start" fill="#000" stroke="#000" stroke-width="1.00" >Best fitting cubic spline</text>
<text transform="translate(240.50,190.05) scale(0.1,0.1)" font-size="57.00" font-weight="normal" font-style="normal" text-anchor="start" fill="#000" stroke="#000" stroke-width="1.00" >95% confidence interval</text>
<path d="M205.70,238.60 C209.23,237.80 220.90,235.37 226.90,233.80 C232.90,232.23 234.52,230.97 241.70,229.20 C248.88,227.43 259.90,224.80 270.00,223.20 C280.10,221.60 294.45,220.38 302.30,219.60 C310.15,218.82 311.93,218.87 317.10,218.50 C322.27,218.13 330.60,217.58 333.30,217.40" fill="none" stroke="#000" stroke-width="1.1" />
<path d="M205.70,234.50 C209.23,234.02 220.90,232.58 226.90,231.60 C232.90,230.62 234.52,230.08 241.70,228.60 C248.88,227.12 259.90,224.32 270.00,222.70 C280.10,221.08 294.45,219.92 302.30,218.90 C310.15,217.88 311.93,217.38 317.10,216.60 C322.27,215.82 330.60,214.60 333.30,214.20" fill="none" stroke="#000" stroke-width="1.1" stroke-dasharray="7,3.5"/>
<path d="M205.70,243.00 C209.23,241.93 220.90,238.78 226.90,236.60 C232.90,234.42 234.52,232.05 241.70,229.90 C248.88,227.75 259.90,225.30 270.00,223.70 C280.10,222.10 294.45,220.82 302.30,220.30 C310.15,219.78 311.93,220.50 317.10,220.60 C322.27,220.70 330.60,220.85 333.30,220.90" fill="none" stroke="#000" stroke-width="1.1" stroke-dasharray="7,3.5"/>
<text transform="translate(356.20,160.10) scale(0.1,0.1)" font-size="109.00" font-weight="bold" font-style="normal" text-anchor="start" fill="#000" >F</text>
<line x1="375.20" y1="163.40" x2="375.20" y2="281.80" stroke="#000" stroke-width="1.1" />
<line x1="374.65" y1="281.20" x2="519.20" y2="281.20" stroke="#000" stroke-width="1.2" />
<line x1="373.60" y1="265.63" x2="375.20" y2="265.63" stroke="#000" stroke-width="0.6" />
<text transform="translate(369.20,265.63) rotate(-90)" font-size="5.1" text-anchor="middle" fill="#000" stroke="#000" stroke-width="0.2">.6</text>
<line x1="373.60" y1="242.35" x2="375.20" y2="242.35" stroke="#000" stroke-width="0.6" />
<text transform="translate(369.20,242.35) rotate(-90)" font-size="5.1" text-anchor="middle" fill="#000" stroke="#000" stroke-width="0.2">.8</text>
<line x1="373.60" y1="224.30" x2="375.20" y2="224.30" stroke="#000" stroke-width="0.6" />
<text transform="translate(369.20,224.30) rotate(-90)" font-size="5.1" text-anchor="middle" fill="#000" stroke="#000" stroke-width="0.2">1</text>
<line x1="373.60" y1="209.55" x2="375.20" y2="209.55" stroke="#000" stroke-width="0.6" />
<text transform="translate(369.20,209.55) rotate(-90)" font-size="5.1" text-anchor="middle" fill="#000" stroke="#000" stroke-width="0.2">1.2</text>
<line x1="373.60" y1="197.08" x2="375.20" y2="197.08" stroke="#000" stroke-width="0.6" />
<text transform="translate(369.20,197.08) rotate(-90)" font-size="5.1" text-anchor="middle" fill="#000" stroke="#000" stroke-width="0.2">1.4</text>
<text transform="translate(362.30,222.0) rotate(-90)" font-size="7.0" text-anchor="middle" fill="#000" stroke="#000" stroke-width="0.1">Estimated RR</text>
<line x1="393.40" y1="281.50" x2="393.40" y2="284.30" stroke="#000" stroke-width="0.7" />
<text transform="translate(393.40,292.60) scale(0.1,0.1)" font-size="70.00" font-weight="normal" font-style="normal" text-anchor="middle" fill="#000" stroke="#000" stroke-width="1.00" >150</text>
<line x1="425.40" y1="281.50" x2="425.40" y2="284.30" stroke="#000" stroke-width="0.7" />
<text transform="translate(425.40,292.60) scale(0.1,0.1)" font-size="70.00" font-weight="normal" font-style="normal" text-anchor="middle" fill="#000" stroke="#000" stroke-width="1.00" >200</text>
<line x1="457.40" y1="281.50" x2="457.40" y2="284.30" stroke="#000" stroke-width="0.7" />
<text transform="translate(457.40,292.60) scale(0.1,0.1)" font-size="70.00" font-weight="normal" font-style="normal" text-anchor="middle" fill="#000" stroke="#000" stroke-width="1.00" >250</text>
<line x1="489.40" y1="281.50" x2="489.40" y2="284.30" stroke="#000" stroke-width="0.7" />
<text transform="translate(489.40,292.60) scale(0.1,0.1)" font-size="70.00" font-weight="normal" font-style="normal" text-anchor="middle" fill="#000" stroke="#000" stroke-width="1.00" >300</text>
<text transform="translate(405.70,299.80) scale(0.1,0.1)" font-size="73.00" font-weight="normal" font-style="normal" text-anchor="start" fill="#000" stroke="#000" stroke-width="1.00" >Total carbohydrate (g/day)</text>
<line x1="380.00" y1="278.00" x2="380.00" y2="281.00" stroke="#000" stroke-width="0.8" />
<line x1="386.60" y1="278.00" x2="386.60" y2="281.00" stroke="#000" stroke-width="0.8" />
<line x1="397.70" y1="278.00" x2="397.70" y2="281.00" stroke="#000" stroke-width="0.8" />
<line x1="399.20" y1="278.00" x2="399.20" y2="281.00" stroke="#000" stroke-width="0.8" />
<line x1="409.70" y1="278.00" x2="409.70" y2="281.00" stroke="#000" stroke-width="0.8" />
<line x1="411.20" y1="278.00" x2="411.20" y2="281.00" stroke="#000" stroke-width="0.8" />
<line x1="413.80" y1="278.00" x2="413.80" y2="281.00" stroke="#000" stroke-width="0.8" />
<line x1="416.20" y1="278.00" x2="416.20" y2="281.00" stroke="#000" stroke-width="0.8" />
<line x1="421.50" y1="278.00" x2="421.50" y2="281.00" stroke="#000" stroke-width="0.8" />
<line x1="423.80" y1="278.00" x2="423.80" y2="281.00" stroke="#000" stroke-width="0.8" />
<line x1="433.00" y1="278.00" x2="433.00" y2="281.00" stroke="#000" stroke-width="0.8" />
<line x1="434.60" y1="278.00" x2="434.60" y2="281.00" stroke="#000" stroke-width="0.8" />
<line x1="437.70" y1="278.00" x2="437.70" y2="281.00" stroke="#000" stroke-width="0.8" />
<line x1="441.50" y1="278.00" x2="441.50" y2="281.00" stroke="#000" stroke-width="0.8" />
<line x1="445.40" y1="278.00" x2="445.40" y2="281.00" stroke="#000" stroke-width="0.8" />
<line x1="446.90" y1="278.00" x2="446.90" y2="281.00" stroke="#000" stroke-width="0.8" />
<line x1="460.80" y1="278.00" x2="460.80" y2="281.00" stroke="#000" stroke-width="0.8" />
<line x1="461.80" y1="278.00" x2="461.80" y2="281.00" stroke="#000" stroke-width="0.8" />
<line x1="463.00" y1="278.00" x2="463.00" y2="281.00" stroke="#000" stroke-width="0.8" />
<line x1="467.40" y1="278.00" x2="467.40" y2="281.00" stroke="#000" stroke-width="0.8" />
<line x1="469.20" y1="278.00" x2="469.20" y2="281.00" stroke="#000" stroke-width="0.8" />
<line x1="476.50" y1="278.00" x2="476.50" y2="281.00" stroke="#000" stroke-width="0.8" />
<line x1="481.20" y1="278.00" x2="481.20" y2="281.00" stroke="#000" stroke-width="0.8" />
<line x1="483.00" y1="278.00" x2="483.00" y2="281.00" stroke="#000" stroke-width="0.8" />
<line x1="484.60" y1="278.00" x2="484.60" y2="281.00" stroke="#000" stroke-width="0.8" />
<line x1="498.20" y1="278.00" x2="498.20" y2="281.00" stroke="#000" stroke-width="0.8" />
<line x1="513.80" y1="278.00" x2="513.80" y2="281.00" stroke="#000" stroke-width="0.8" />
<line x1="383.00" y1="174.80" x2="410.50" y2="174.80" stroke="#000" stroke-width="1.1" />
<line x1="383.00" y1="187.60" x2="410.50" y2="187.60" stroke="#000" stroke-width="1.1" stroke-dasharray="7.8,4.2"/>
<text transform="translate(418.80,176.85) scale(0.1,0.1)" font-size="57.00" font-weight="normal" font-style="normal" text-anchor="start" fill="#000" stroke="#000" stroke-width="1.00" >Best fitting cubic spline</text>
<text transform="translate(418.80,189.65) scale(0.1,0.1)" font-size="57.00" font-weight="normal" font-style="normal" text-anchor="start" fill="#000" stroke="#000" stroke-width="1.00" >95% confidence interval</text>
<path d="M387.00,230.50 C389.87,230.00 399.77,228.25 404.20,227.50 C408.63,226.75 408.88,226.67 413.60,226.00 C418.32,225.33 426.43,223.62 432.50,223.50 C438.57,223.38 444.83,224.47 450.00,225.30 C455.17,226.13 459.02,227.12 463.50,228.50 C467.98,229.88 472.42,231.82 476.90,233.60 C481.38,235.38 484.33,237.03 490.40,239.20 C496.47,241.37 509.48,245.37 513.30,246.60" fill="none" stroke="#000" stroke-width="1.1" />
<path d="M387.00,227.50 C389.87,227.20 399.77,226.05 404.20,225.70 C408.63,225.35 408.88,225.85 413.60,225.40 C418.32,224.95 426.43,223.10 432.50,223.00 C438.57,222.90 444.83,224.00 450.00,224.80 C455.17,225.60 459.02,226.63 463.50,227.80 C467.98,228.97 472.42,230.57 476.90,231.80 C481.38,233.03 484.33,233.78 490.40,235.20 C496.47,236.62 509.48,239.45 513.30,240.30" fill="none" stroke="#000" stroke-width="1.1" stroke-dasharray="7,3.5"/>
<path d="M387.00,234.00 C389.87,233.27 399.77,230.83 404.20,229.60 C408.63,228.37 408.88,227.53 413.60,226.60 C418.32,225.67 426.43,224.13 432.50,224.00 C438.57,223.87 444.83,224.93 450.00,225.80 C455.17,226.67 459.02,227.47 463.50,229.20 C467.98,230.93 472.42,233.85 476.90,236.20 C481.38,238.55 484.33,240.82 490.40,243.30 C496.47,245.78 509.48,249.80 513.30,251.10" fill="none" stroke="#000" stroke-width="1.1" stroke-dasharray="7,3.5"/>
</svg></body></html>
